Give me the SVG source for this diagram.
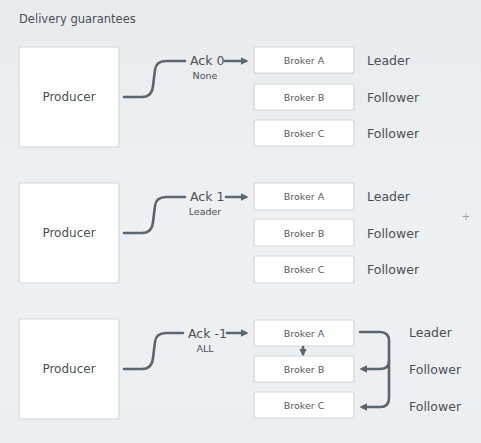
<svg xmlns="http://www.w3.org/2000/svg" width="481" height="443" viewBox="0 0 481 443">
<defs>
<linearGradient id="bg" x1="0" y1="0" x2="0" y2="1">
<stop offset="0" stop-color="#e9ecef"/>
<stop offset="0.5" stop-color="#eef1f4"/>
<stop offset="1" stop-color="#eceff2"/>
</linearGradient>
<marker id="ah" viewBox="0 0 10 10" refX="7" refY="5" markerWidth="3" markerHeight="3" orient="auto" markerUnits="strokeWidth">
<path d="M0,0 L10,5 L0,10 z" fill="#5b6670"/>
</marker>
<style>
.box{fill:#ffffff;stroke:#d3d7db;stroke-width:1.2}
.t{font-family:"DejaVu Sans","Liberation Sans",sans-serif;fill:#4a5056}
.prod{font-size:12px;text-anchor:middle}
.brk{font-size:9.5px;text-anchor:middle;fill:#555b61}
.role{font-size:12.5px}
.ack{font-size:12.5px}
.sub{font-size:9.5px;text-anchor:middle}
.plus{font-size:10px;text-anchor:middle;fill:#9aa0a6}
.ln{fill:none;stroke:#5b6670;stroke-width:2.6;stroke-linecap:round;stroke-linejoin:round}
</style>
</defs>
<rect width="481" height="443" fill="url(#bg)"/>
<text class="t" x="19" y="23" font-size="11.5">Delivery guarantees</text>

<g id="producer1"><rect class="box" x="19" y="47" width="100" height="100" rx="2"/><text class="t prod" x="69" y="101">Producer</text></g>
<g id="brokerA1"><rect class="box" x="254" y="47" width="100" height="26" rx="2"/><text class="t brk" x="304" y="64">Broker A</text></g>
<g id="brokerB1"><rect class="box" x="254" y="84" width="100" height="26" rx="2"/><text class="t brk" x="304" y="101">Broker B</text></g>
<g id="brokerC1"><rect class="box" x="254" y="120" width="100" height="26" rx="2"/><text class="t brk" x="304" y="137">Broker C</text></g>
<g id="roles1"><text class="t role" x="367" y="65">Leader</text><text class="t role" x="367" y="102">Follower</text><text class="t role" x="367" y="138">Follower</text></g>
<g id="ack0"><text class="t ack" x="190" y="65">Ack 0</text><text class="t sub" x="205" y="79">None</text></g>

<g id="producer2"><rect class="box" x="19" y="183" width="100" height="100" rx="2"/><text class="t prod" x="69" y="237">Producer</text></g>
<g id="brokerA2"><rect class="box" x="254" y="183" width="100" height="27" rx="2"/><text class="t brk" x="304" y="200">Broker A</text></g>
<g id="brokerB2"><rect class="box" x="254" y="219" width="100" height="27" rx="2"/><text class="t brk" x="304" y="237">Broker B</text></g>
<g id="brokerC2"><rect class="box" x="254" y="256" width="100" height="27" rx="2"/><text class="t brk" x="304" y="273">Broker C</text></g>
<g id="roles2"><text class="t role" x="367" y="201">Leader</text><text class="t role" x="367" y="238">Follower</text><text class="t role" x="367" y="274">Follower</text></g>
<g id="ack1"><text class="t ack" x="190" y="201">Ack 1</text><text class="t sub" x="205" y="215">Leader</text></g>
<text class="t plus" x="466" y="220">+</text>

<g id="producer3"><rect class="box" x="19" y="319" width="100" height="100" rx="2"/><text class="t prod" x="69" y="373">Producer</text></g>
<g id="brokerA3"><rect class="box" x="254" y="320" width="100" height="26" rx="2"/><text class="t brk" x="304" y="337">Broker A</text></g>
<g id="brokerB3"><rect class="box" x="254" y="356" width="100" height="26" rx="2"/><text class="t brk" x="304" y="373">Broker B</text></g>
<g id="brokerC3"><rect class="box" x="254" y="392" width="100" height="26" rx="2"/><text class="t brk" x="304" y="409">Broker C</text></g>
<g id="roles3"><text class="t role" x="409" y="337">Leader</text><text class="t role" x="409" y="374">Follower</text><text class="t role" x="409" y="411">Follower</text></g>
<g id="ackm1"><text class="t ack" x="188" y="338">Ack -1</text><text class="t sub" x="205" y="352">ALL</text></g>

<g id="connectors">
<path class="ln" d="M124,97 H142 Q152,97 153,86 L155,70 Q156,61 166,61 H185"/>
<path class="ln" d="M225,61 H246" marker-end="url(#ah)"/>
<path class="ln" d="M124,233 H142 Q152,233 153,222 L155,206 Q156,197 166,197 H185"/>
<path class="ln" d="M226,197 H246" marker-end="url(#ah)"/>
<path class="ln" d="M124,369 H142 Q152,369 153,358 L155,342 Q156,333 166,333 H183"/>
<path class="ln" d="M227,333 H246" marker-end="url(#ah)"/>
<path class="ln" d="M303,347 V354" stroke-width="2" marker-end="url(#ah)"/>
<path class="ln" d="M360,332 H380 Q389,332 389,341 V398 Q389,407 380,407 H362" marker-end="url(#ah)"/>
<path class="ln" d="M389,361 Q389,369 380,369 H362" marker-end="url(#ah)"/>
</g>
</svg>
